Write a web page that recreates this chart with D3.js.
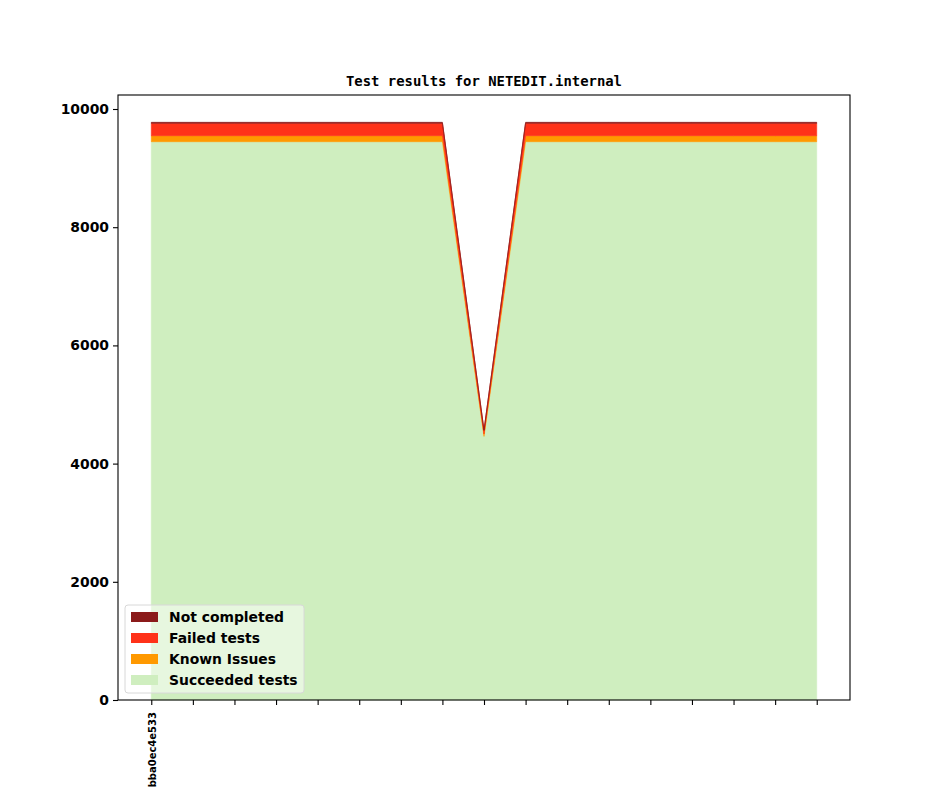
<!DOCTYPE html>
<html>
<head>
<meta charset="utf-8">
<script src="https://cdn.jsdelivr.net/npm/d3@7"></script>
<style>
  body { margin: 0; background: #fff; }
  svg text { font-family: "DejaVu Sans", sans-serif; font-weight: bold; }
</style>
</head>
<body>
<svg id="chart" width="944" height="787" viewBox="0 0 944 787"></svg>
<script>
// builds 0..16, only the first one carries a label
const builds = d3.range(17);
const buildLabels = ["bba0ec4e533"];

const succeeded    = [9447, 9447, 9447, 9447, 9447, 9447, 9447, 9447, 4460, 9447, 9447, 9447, 9447, 9447, 9447, 9447, 9447];
const knownIssues  = [101, 101, 101, 101, 101, 101, 101, 101, 40, 101, 101, 101, 101, 101, 101, 101, 101];
const failedTests  = [210, 210, 210, 210, 210, 210, 210, 210, 60, 210, 210, 210, 210, 210, 210, 210, 210];
const notCompleted = [17, 17, 17, 17, 17, 17, 17, 17, 10, 17, 17, 17, 17, 17, 17, 17, 17];

const seriesNames = ["Succeeded tests", "Known Issues", "Failed tests", "Not completed"];
const seriesColors = ["#cfeebf", "#ff9900", "#ff3219", "#8b1a1a"];
const yTicks = [0, 2000, 4000, 6000, 8000, 10000];

const svg = d3.select("#chart");
const margin = { left: 118, right: 850, top: 95, bottom: 700 };

const rows = builds.map((b, i) => ({
  build: b,
  s0: succeeded[i],
  s1: knownIssues[i],
  s2: failedTests[i],
  s3: notCompleted[i],
}));

const stacked = d3.stack().keys(["s0", "s1", "s2", "s3"])(rows);

const x = d3.scaleLinear().domain([-0.8, 16.8]).range([margin.left, margin.right]);
const y = d3.scaleLinear().domain([0, 10237]).range([margin.bottom, margin.top]);

const area = d3.area()
  .x((d) => x(d.data.build))
  .y0((d) => y(d[0]))
  .y1((d) => y(d[1]));

svg.append("g")
  .selectAll("path")
  .data(stacked)
  .enter()
  .append("path")
  .attr("d", area)
  .attr("fill", (d, i) => seriesColors[i])
  .attr("stroke", (d, i) => seriesColors[i])
  .attr("stroke-width", 0.6);

// frame
svg.append("rect")
  .attr("x", margin.left)
  .attr("y", margin.top)
  .attr("width", margin.right - margin.left)
  .attr("height", margin.bottom - margin.top)
  .attr("fill", "none")
  .attr("stroke", "#000")
  .attr("stroke-width", 1.1);

const yAxis = svg.append("g")
  .attr("transform", `translate(${margin.left},0)`)
  .call(d3.axisLeft(y).tickValues(yTicks).tickSize(5).tickPadding(4).tickFormat(d3.format("d")));
yAxis.select(".domain").remove();
yAxis.selectAll("text").style("font-size", "13.9px").attr("fill", "#000");
yAxis.selectAll("line").attr("stroke-width", 1.1);

const xAxis = svg.append("g")
  .attr("transform", `translate(0,${margin.bottom})`)
  .call(d3.axisBottom(x).tickValues(builds).tickSize(5).tickFormat((d, i) => buildLabels[i] || ""));
xAxis.select(".domain").remove();
xAxis.selectAll("line").attr("stroke-width", 1.1);
xAxis.selectAll("text")
  .style("font-size", "10px")
  .attr("fill", "#000")
  .attr("text-anchor", "end")
  .attr("dy", null)
  .attr("y", 0)
  .attr("transform", "translate(4,12) rotate(-90)");

svg.append("text")
  .attr("x", (margin.left + margin.right) / 2)
  .attr("y", 86)
  .attr("text-anchor", "middle")
  .style("font-family", "'DejaVu Sans Mono', monospace")
  .style("font-size", "13.9px")
  .text("Test results for NETEDIT.internal");

// legend, top entry is the top of the stack
const legend = svg.append("g").attr("transform", "translate(125,605)");
legend.append("rect")
  .attr("width", 179)
  .attr("height", 88)
  .attr("rx", 3)
  .attr("fill", "#fff")
  .attr("fill-opacity", 0.5)
  .attr("stroke", "#d8d8d8");

const order = [3, 2, 1, 0];
const entries = legend.selectAll(".entry")
  .data(order)
  .enter()
  .append("g")
  .attr("transform", (d, i) => `translate(6,${12 + i * 21})`);
entries.append("rect")
  .attr("y", -5)
  .attr("width", 27)
  .attr("height", 10)
  .attr("fill", (d) => seriesColors[d]);
entries.append("text")
  .attr("x", 38)
  .attr("y", 5)
  .style("font-size", "13.9px")
  .text((d) => seriesNames[d]);
</script>
</body>
</html>
